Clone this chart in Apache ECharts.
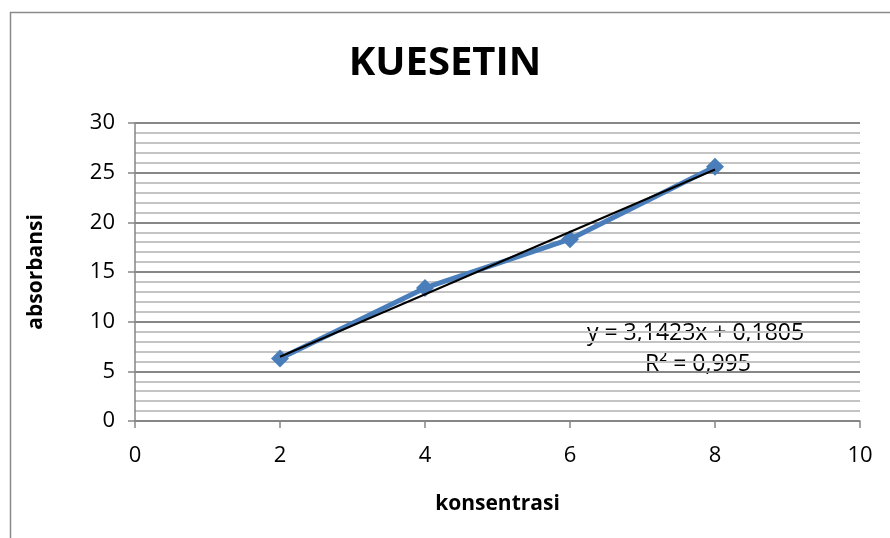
<!DOCTYPE html>
<html>
<head>
<meta charset="utf-8">
<script src="https://cdn.jsdelivr.net/npm/echarts@6/dist/echarts.min.js"></script>
<style>
html, body { margin: 0; padding: 0; background: #fff; }
#chart { width: 890px; height: 538px; }
</style>
</head>
<body>
<div id="chart"></div>
<script>
// data
var konsentrasi = [2, 4, 6, 8];
var absorbansi = [6.3, 13.4, 18.3, 25.6];
var trendSlope = 3.1423;
var trendIntercept = 0.1805;
var trendText = ['y = 3,1423x + 0,1805', 'R² = 0,995'];
var xTicks = [0, 2, 4, 6, 8, 10];
var yTicks = [0, 5, 10, 15, 20, 25, 30];

var fontFam = '"Open Sans", "Noto Sans", sans-serif';

var points = [];
for (var i = 0; i < konsentrasi.length; i++) points.push([konsentrasi[i], absorbansi[i]]);

var x0 = konsentrasi[0], x1 = konsentrasi[konsentrasi.length - 1];
var trend = [[x0, trendSlope * x0 + trendIntercept], [x1, trendSlope * x1 + trendIntercept]];

var chart = echarts.init(document.getElementById('chart'));
var option = {
	animation: false,
	backgroundColor: '#fff',
	title: {
		text: 'KUESETIN',
		left: 'center',
		top: 39,
		textStyle: { fontFamily: fontFam, fontWeight: 'bold', fontSize: 40, color: '#000' }
	},
	grid: { left: 135, top: 123, right: 30, bottom: 117 },
	xAxis: {
		type: 'value',
		min: xTicks[0],
		max: xTicks[xTicks.length - 1],
		interval: 2,
		name: 'konsentrasi',
		nameLocation: 'middle',
		nameGap: 73,
		nameTextStyle: { fontFamily: fontFam, fontWeight: 'bold', fontSize: 21, color: '#000' },
		axisLine: { lineStyle: { color: '#868686', width: 1.5 } },
		axisTick: { show: true, length: 7, lineStyle: { color: '#868686', width: 1.5 } },
		axisLabel: { fontFamily: fontFam, fontSize: 22, color: '#000', margin: 24 },
		splitLine: { show: false }
	},
	yAxis: {
		type: 'value',
		min: yTicks[0],
		max: yTicks[yTicks.length - 1],
		interval: 5,
		name: 'absorbansi',
		nameLocation: 'middle',
		nameGap: 88,
		nameRotate: 90,
		nameTextStyle: { fontFamily: fontFam, fontWeight: 'bold', fontSize: 21, color: '#000' },
		axisLine: { show: true, lineStyle: { color: '#868686', width: 1.5 } },
		axisTick: { show: true, length: 7, lineStyle: { color: '#868686', width: 1.5 } },
		axisLabel: { fontFamily: fontFam, fontSize: 22, color: '#000', margin: 20 },
		splitLine: { show: true, lineStyle: { color: '#878787', width: 2 } },
		minorTick: { show: false, splitNumber: 5 },
		minorSplitLine: { show: true, lineStyle: { color: '#c4c4c4', width: 2 } }
	},
	graphic: [
		{ type: 'rect', left: 8, top: 10, shape: { width: 900, height: 560 }, style: { fill: 'none', stroke: '#8a8a8a', lineWidth: 1.5 }, silent: true },
		{ type: 'text', left: 587, top: 322, style: { text: trendText[0], fontFamily: fontFam, fontSize: 23, fill: '#000' } },
		{ type: 'text', left: 645, top: 353, style: { text: trendText[1], fontFamily: fontFam, fontSize: 23, fill: '#000' } }
	],
	series: [
		{
			name: 'absorbansi',
			type: 'line',
			data: points,
			symbol: 'diamond',
			symbolSize: 18,
			itemStyle: { color: '#4a7ebb' },
			lineStyle: { color: '#4a7ebb', width: 5 },
			z: 3
		},
		{
			name: 'trend',
			type: 'line',
			data: trend,
			symbol: 'none',
			lineStyle: { color: '#000', width: 2 },
			z: 4
		}
	]
};
chart.setOption(option);
</script>
</body>
</html>
